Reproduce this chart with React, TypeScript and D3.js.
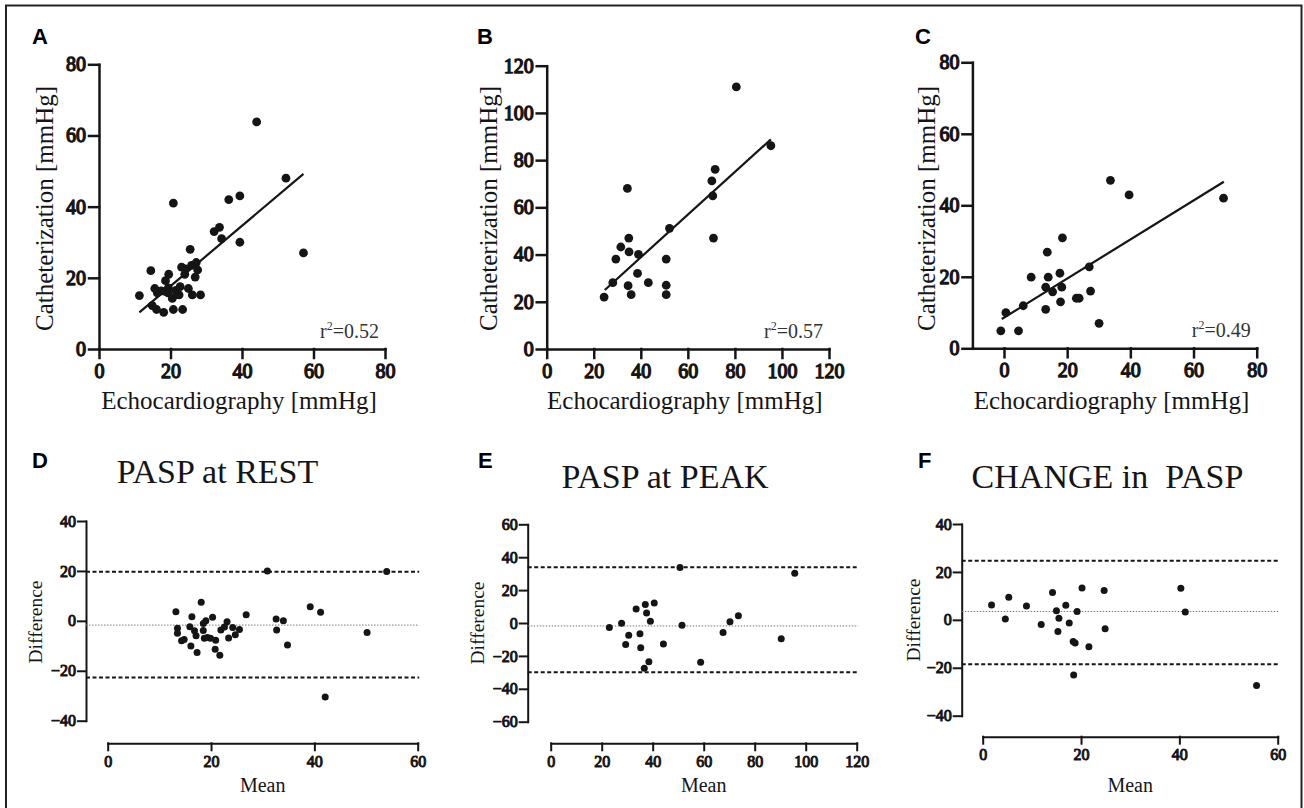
import React, { useEffect, useRef } from 'react';
import * as d3 from 'd3';

// panel A – PASP at rest, echo vs catheter
const aEcho = [44.1, 52.3, 57.2, 20.8, 36.3, 39.4, 39.4, 32.2, 33.7, 34.3, 25.5, 14.5, 11.3, 19.5, 18.6, 23.1, 24.2, 25.9, 27.2, 27.6, 26.9, 15.6, 16.3, 17.4, 19.3, 20.5, 21.5, 22.7, 25, 22.4, 26.1, 28.4, 14.9, 16.1, 18.1, 20.8, 23.4, 19.4, 18.5, 21.7, 24];
const aCath = [63.8, 48, 27, 41, 42, 43, 30, 33, 34.2, 31, 28, 22, 15, 21, 19.2, 23, 22.5, 23.5, 24.3, 22.2, 20.2, 17, 15.8, 16.3, 15.8, 14.2, 16.5, 17.5, 17, 15.2, 15.2, 15.2, 12.2, 11.1, 10.3, 11.1, 11.1, 17.2, 16.2, 15.3, 21];
const aFitX = [11.3, 57.2];
const aFitY = [10.3, 49.2];

// panel B – PASP at peak
const bEcho = [80.6, 95.3, 71.6, 70.2, 70.6, 70.9, 52.2, 34.3, 34.9, 31.5, 35, 39, 29.4, 50.8, 38.6, 28.1, 34.6, 43.2, 50.8, 35.9, 50.8, 24.4];
const bCath = [111, 86.1, 76.1, 71.2, 64.9, 47, 51.1, 68, 47, 43.2, 41.1, 40.1, 38.1, 38.1, 32, 28.1, 26.8, 28.1, 27, 23, 23, 22];
const bFitX = [24.7, 95.3];
const bFitY = [25, 88.8];

// panel C – change in PASP
const cEcho = [33.7, 39.6, 69.5, 18.5, 13.7, 8.6, 14, 17.7, 27, 13.2, 15.4, 18.3, 17.9, 22.9, 23.8, 27.4, 13.2, 6.1, 0.6, -1, 4.6, 30.1];
const cCath = [47, 42.9, 42, 30.9, 26.9, 19.9, 19.9, 21, 22.8, 17.1, 15.8, 17.1, 13, 14, 14, 16, 10.9, 11.9, 10, 4.9, 4.9, 7];
const cFitX = [-0.7, 69.6];
const cFitY = [8.2, 46.6];

const r2Labels = ['0.52', '0.57', '0.49'];

// panel D – Bland-Altman at rest
const dMean = [30.9, 54, 18.1, 13.2, 16.3, 20.3, 19, 23.1, 26.8, 39.2, 41.2, 32.6, 34, 32.7, 34.8, 50.2, 42.1, 13.5, 13.5, 14.3, 14.8, 16.1, 17.3, 15.9, 16.8, 17.1, 18.5, 18.7, 19.3, 19.9, 20.9, 20.8, 21.7, 21.9, 23.4, 24.2, 24.7, 25.5, 22.6, 18.5];
const dDiff = [20, 19.8, 7.5, 3.6, 1.6, 1.4, 0, -0.4, 2.4, 5.6, 3.4, 0.7, 0, -3.7, -9.7, -4.7, -30.5, -3, -5, -8, -7.5, -10.1, -12.7, -2.4, -4, -6, -3.9, -7, -6.7, -7, -7.8, -11.4, -13.8, -3.7, -6.9, -2.7, -5.6, -3.5, -2.5, -1.1];
const dLimits = [19.7, -1.7, -22.7];

// panel E – Bland-Altman at peak
const eMean = [50.7, 95.7, 23, 27.8, 30.6, 29.4, 33.5, 37.1, 40.6, 37.6, 39.1, 35, 35.3, 44.2, 38.5, 36.7, 51.5, 58.8, 67.6, 70.3, 73.6, 90.4];
const eDiff = [33.7, 30.3, -2.7, -0.2, -7.5, -13, 8.5, 11.3, 12.1, 6.1, 1, -6.5, -15, -12.7, -23.6, -27.5, -1.4, -23.9, -5.7, 0.8, 4.4, -9.5];
const eLimits = [33.9, -1.8, -29.9];

// panel F – Bland-Altman change
const fMean = [1.8, 5.3, 4.6, 8.9, 11.9, 14.2, 15, 16.9, 15.5, 15.3, 17.6, 19.2, 20.2, 18.4, 18.8, 21.6, 24.7, 24.9, 18.5, 40.3, 41.2, 55.7];
const fDiff = [6.2, 9.4, 0.4, 5.8, -1.9, 11.4, 3.75, 6.1, 0.7, -4.9, -1.3, 3.5, 13.3, -9, -9.7, -11.2, 12.2, -3.75, -23, 13.2, 3.3, -27.4];
const fLimits = [24.7, 3.5, -18.5];

const SERIF = '"Liberation Serif", "Times New Roman", serif';
const SANS = '"Liberation Sans", Arial, sans-serif';
const INK = '#151515';

const App = () => {
  const svgRef = useRef<SVGSVGElement>(null);

  useEffect(() => {
    const svg = d3.select(svgRef.current);
    svg.selectAll('*').remove();

    // outer frame
    svg.append('rect')
      .attr('x', 6).attr('y', 5.5)
      .attr('width', 1295.5).attr('height', 820)
      .attr('fill', 'none').attr('stroke', '#222').attr('stroke-width', 2);

    // tick labels: serif, thickened with a stroke so they read bold
    const styleAxis = (g, width, fontSize) => {
      g.attr('font-family', null).attr('font-size', null);
      g.selectAll('path, line').attr('stroke', INK).attr('stroke-width', width).attr('stroke-linecap', 'square');
      g.selectAll('text')
        .attr('fill', INK)
        .attr('stroke', INK)
        .attr('stroke-width', fontSize > 18 ? 1.3 : 1.0)
        .attr('stroke-linejoin', 'round')
        .attr('font-family', SERIF)
        .attr('font-size', fontSize);
    };

    // ---- top row: correlation scatter plots ----
    const corrPanels = [
      { letter: 'A', lx: 32, xs: aEcho, ys: aCath, fx: aFitX, fy: aFitY, r2: r2Labels[0],
        xDom: [0, 80], xRange: [99, 385], yDom: [0, 80], yRange: [349, 64.3],
        xTicks: [0, 20, 40, 60, 80], yTicks: [0, 20, 40, 60, 80], yTitleX: 53 },
      { letter: 'B', lx: 477, xs: bEcho, ys: bCath, fx: bFitX, fy: bFitY, r2: r2Labels[1],
        xDom: [0, 120], xRange: [546.7, 829], yDom: [0, 120], yRange: [349, 65.7],
        xTicks: [0, 20, 40, 60, 80, 100, 120], yTicks: [0, 20, 40, 60, 80, 100, 120], yTitleX: 497 },
      { letter: 'C', lx: 915, xs: cEcho, ys: cCath, fx: cFitX, fy: cFitY, r2: r2Labels[2],
        xDom: [-10, 80], xRange: [972.4, 1256.7], yDom: [0, 80], yRange: [348.3, 62.3],
        xTicks: [0, 20, 40, 60, 80], yTicks: [0, 20, 40, 60, 80], yTitleX: 935 },
    ];

    corrPanels.forEach(p => {
      const x = d3.scaleLinear().domain(p.xDom).range(p.xRange);
      const y = d3.scaleLinear().domain(p.yDom).range(p.yRange);
      const g = svg.append('g');

      const yAx = g.append('g')
        .attr('transform', `translate(${x(p.xDom[0])},0)`)
        .call(d3.axisLeft(y).tickValues(p.yTicks).tickSize(10).tickPadding(3).tickSizeOuter(0).tickFormat(d3.format('d')));
      styleAxis(yAx, 2.5, 20);

      const xAx = g.append('g')
        .attr('transform', `translate(0,${y(0)})`)
        .call(d3.axisBottom(x).tickValues(p.xTicks).tickSize(9).tickPadding(6).tickSizeOuter(0).tickFormat(d3.format('d')));
      styleAxis(xAx, 2.5, 20);

      const fit = p.fx.map((v, i) => [v, p.fy[i]]);
      g.append('path')
        .datum(fit)
        .attr('fill', 'none')
        .attr('stroke', INK)
        .attr('stroke-width', 2.2)
        .attr('d', d3.line().x(d => x(d[0])).y(d => y(d[1])));

      g.selectAll('circle')
        .data(p.xs.map((v, i) => [v, p.ys[i]]))
        .join('circle')
        .attr('cx', d => x(d[0]))
        .attr('cy', d => y(d[1]))
        .attr('r', 4.4)
        .attr('fill', INK);

      const r2 = g.append('text')
        .attr('x', x(p.xDom[1]) - 6)
        .attr('y', y(0) - 11)
        .attr('text-anchor', 'end')
        .attr('fill', '#333')
        .attr('font-family', SERIF)
        .attr('font-size', 20);
      r2.append('tspan').text('r');
      r2.append('tspan').attr('dy', -8).attr('font-size', 12).text('2');
      r2.append('tspan').attr('dy', 8).text(`=${p.r2}`);

      g.append('text')
        .attr('x', (p.xRange[0] + p.xRange[1]) / 2 - 3)
        .attr('y', 409)
        .attr('text-anchor', 'middle')
        .attr('fill', INK)
        .attr('font-family', SERIF)
        .attr('font-size', 25)
        .text('Echocardiography [mmHg]');

      g.append('text')
        .attr('transform', `translate(${p.yTitleX},208.5) rotate(-90)`)
        .attr('text-anchor', 'middle')
        .attr('fill', INK)
        .attr('font-family', SERIF)
        .attr('font-size', 25)
        .text('Catheterization [mmHg]');

      g.append('text')
        .attr('x', p.lx).attr('y', 44)
        .attr('fill', '#000')
        .attr('font-family', SANS)
        .attr('font-size', 22)
        .attr('font-weight', 'bold')
        .text(p.letter);
    });

    // ---- bottom row: Bland-Altman plots ----
    const baPanels = [
      { letter: 'D', lx: 32, title: 'PASP at REST', tx: 217.5, ty: 483, xs: dMean, ys: dDiff, lim: dLimits,
        xDom: [0, 60], xRange: [107.7, 417.7], yDom: [-40, 40], yRange: [720.7, 521],
        xTicks: [0, 20, 40, 60], yTicks: [-40, -20, 0, 20, 40], axisX: 86, axisY: 743.3, yTitleX: 42, yTitleY: 622 },
      { letter: 'E', lx: 478, title: 'PASP at PEAK', tx: 665, ty: 488, xs: eMean, ys: eDiff, lim: eLimits,
        xDom: [0, 120], xRange: [550.7, 856.7], yDom: [-60, 60], yRange: [721.7, 524.3],
        xTicks: [0, 20, 40, 60, 80, 100, 120], yTicks: [-60, -40, -20, 0, 20, 40, 60], axisX: 527.7, axisY: 743.3, yTitleX: 483.5, yTitleY: 623 },
      { letter: 'F', lx: 918, title: 'CHANGE in  PASP', tx: 1107.5, ty: 488, xs: fMean, ys: fDiff, lim: fLimits,
        xDom: [0, 60], xRange: [982.7, 1277.7], yDom: [-40, 40], yRange: [715.7, 524],
        xTicks: [0, 20, 40, 60], yTicks: [-40, -20, 0, 20, 40], axisX: 961.7, axisY: 736.7, yTitleX: 919.5, yTitleY: 620 },
    ];

    baPanels.forEach(p => {
      const x = d3.scaleLinear().domain(p.xDom).range(p.xRange);
      const y = d3.scaleLinear().domain(p.yDom).range(p.yRange);
      const g = svg.append('g');

      const yAx = g.append('g')
        .attr('transform', `translate(${p.axisX},0)`)
        .call(d3.axisLeft(y).tickValues(p.yTicks).tickSize(8).tickPadding(2).tickSizeOuter(0).tickFormat(d3.format('d')));
      styleAxis(yAx, 2, 16);

      const xAx = g.append('g')
        .attr('transform', `translate(0,${p.axisY})`)
        .call(d3.axisBottom(x).tickValues(p.xTicks).tickSize(7).tickPadding(5).tickSizeOuter(0).tickFormat(d3.format('d')));
      styleAxis(xAx, 2, 16);

      // limits of agreement and bias
      p.lim.forEach((v, i) => {
        g.append('line')
          .attr('x1', p.axisX).attr('x2', x(p.xDom[1]) + 1.5)
          .attr('y1', y(v)).attr('y2', y(v))
          .attr('stroke', i === 1 ? '#777' : INK)
          .attr('stroke-width', i === 1 ? 1 : 2)
          .attr('stroke-dasharray', i === 1 ? '1.5,1.5' : '4,2.5');
      });

      g.selectAll('circle')
        .data(p.xs.map((v, i) => [v, p.ys[i]]))
        .join('circle')
        .attr('cx', d => x(d[0]))
        .attr('cy', d => y(d[1]))
        .attr('r', 3.5)
        .attr('fill', INK);

      g.append('text')
        .attr('x', (p.xRange[0] + p.xRange[1]) / 2)
        .attr('y', 792)
        .attr('text-anchor', 'middle')
        .attr('fill', INK)
        .attr('font-family', SERIF)
        .attr('font-size', 20)
        .text('Mean');

      g.append('text')
        .attr('transform', `translate(${p.yTitleX},${p.yTitleY}) rotate(-90)`)
        .attr('text-anchor', 'middle')
        .attr('fill', INK)
        .attr('font-family', SERIF)
        .attr('font-size', 19.5)
        .text('Difference');

      g.append('text')
        .attr('x', p.tx).attr('y', p.ty)
        .attr('text-anchor', 'middle')
        .attr('fill', INK)
        .attr('font-family', SERIF)
        .attr('font-size', 34)
        .style('white-space', 'pre')
        .text(p.title);

      g.append('text')
        .attr('x', p.lx).attr('y', 468)
        .attr('fill', '#000')
        .attr('font-family', SANS)
        .attr('font-size', 22)
        .attr('font-weight', 'bold')
        .text(p.letter);
    });
  }, []);

  return (
    <svg
      ref={svgRef}
      width={1304}
      height={808}
      style={{ position: 'absolute', left: 0, top: 0, background: '#fff' }}
    />
  );
};

export default App;
